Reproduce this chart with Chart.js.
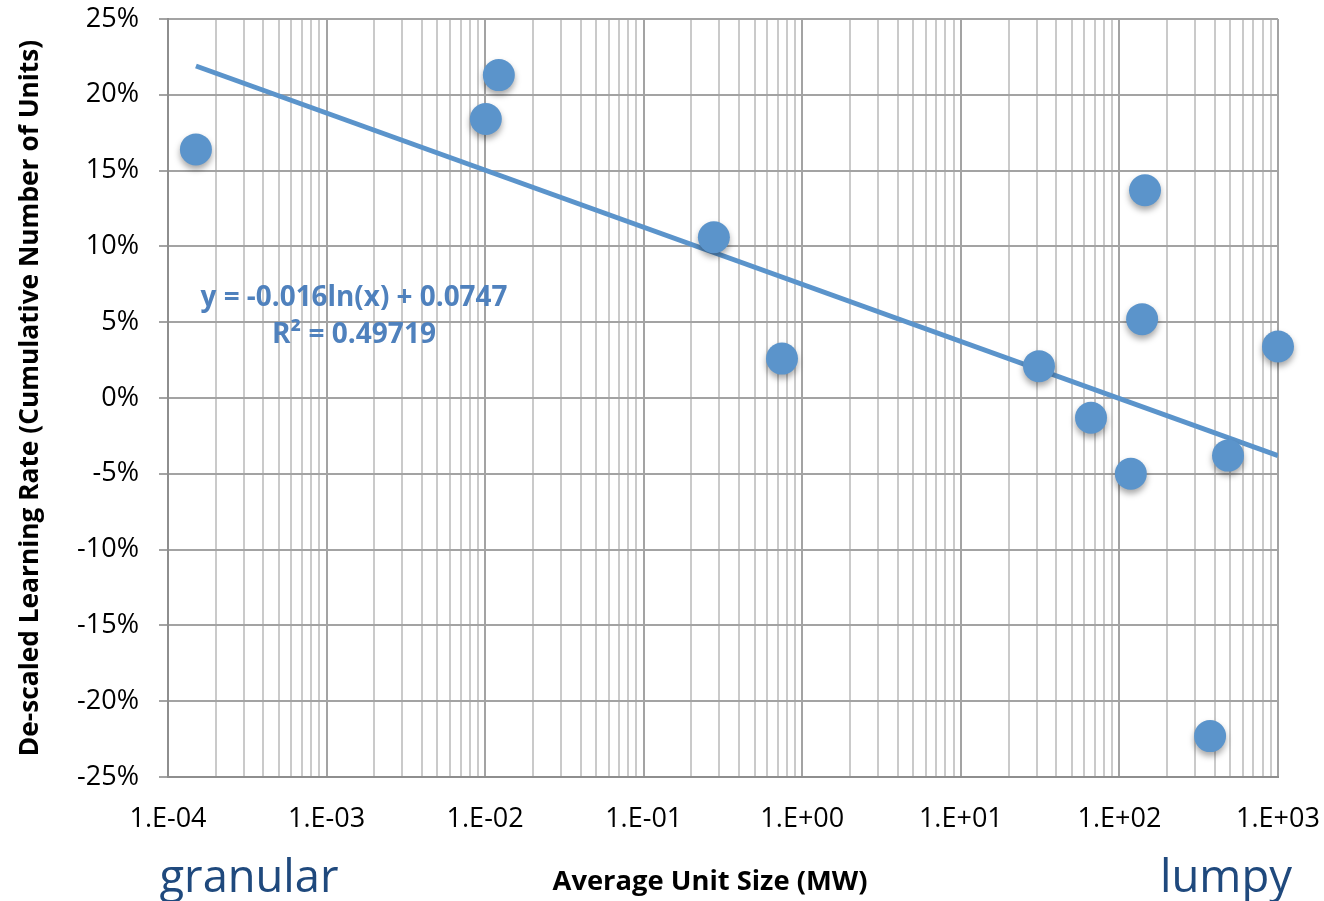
<!DOCTYPE html>
<html>
<head>
<meta charset="utf-8">
<title>Learning rate vs unit size</title>
<script src="https://cdn.jsdelivr.net/npm/chart.js@4.4.1/dist/chart.umd.min.js"></script>
<style>
  html, body { margin: 0; padding: 0; background: #fff; }
  #wrap { width: 1324px; height: 901px; }
</style>
</head>
<body>
<div id="wrap"><canvas id="learningChart" width="1324" height="901"></canvas></div>
<script>
// values
const unitSizeMW = [1.5e-4, 0.0101, 0.0122, 0.277, 0.745, 31.1, 66.2, 118, 145, 139, 484, 373, 1000];
const learningRate = [0.164, 0.184, 0.213, 0.106, 0.026, 0.021, -0.013, -0.050, 0.137, 0.052, -0.038, -0.223, 0.034];

// trendline end points (log fit, straight on a log axis)
const trendX = [1.5e-4, 1000];
const trendY = [0.219, -0.038];

const decades = [1e-4, 1e-3, 1e-2, 1e-1, 1e0, 1e1, 1e2, 1e3];
const xTickLabels = ['1.E-04', '1.E-03', '1.E-02', '1.E-01', '1.E+00', '1.E+01', '1.E+02', '1.E+03'];
const yTicks = [-0.25, -0.2, -0.15, -0.1, -0.05, 0, 0.05, 0.1, 0.15, 0.2, 0.25];

const blue = '#5b94cb';
const majorGrid = '#a3a3a3';
const minorGrid = '#cacaca';

function isDecade(v) {
    const l = Math.log10(v);
    return Math.abs(l - Math.round(l)) < 1e-9;
}

// no label overhang, the layout padding alone places the plot area
function noOverhang(scale) {
    scale.paddingTop = 0;
    scale.paddingBottom = 0;
    scale.paddingLeft = 0;
    scale.paddingRight = 0;
}

// draw text squeezed/stretched to a target width
function fitText(ctx, text, x, y, width, size, weight, color) {
    ctx.font = weight + ' ' + size + 'px "Open Sans"';
    const w = ctx.measureText(text).width;
    const s = size * width / w;
    ctx.font = weight + ' ' + s + 'px "Open Sans"';
    ctx.fillStyle = color;
    ctx.fillText(text, x, y);
}

const pointShadow = {
    id: 'pointShadow',
    beforeDatasetDraw(chart, args) {
        if (args.index !== 0) return;
        const ctx = chart.ctx;
        ctx.save();
        ctx.shadowColor = 'rgba(0,0,0,0.35)';
        ctx.shadowBlur = 6;
        ctx.shadowOffsetY = 4;
    },
    afterDatasetDraw(chart, args) {
        if (args.index !== 0) return;
        chart.ctx.restore();
    }
};

const annotations = {
    id: 'annotations',
    afterDraw(chart) {
        const ctx = chart.ctx;
        ctx.save();
        ctx.textAlign = 'center';
        ctx.textBaseline = 'middle';

        // equation of the fit
        fitText(ctx, 'y = -0.016ln(x) + 0.0747', 354, 298, 307, 24, 'bold', '#4f81bd');
        fitText(ctx, 'R² = 0.49719', 354, 335, 164, 24, 'bold', '#4f81bd');

        // x title
        fitText(ctx, 'Average Unit Size (MW)', 710, 882, 315, 22, 'bold', '#000');

        // granular / lumpy
        ctx.textBaseline = 'alphabetic';
        fitText(ctx, 'granular', 249, 892, 179, 44, 'normal', '#1f497d');
        fitText(ctx, 'lumpy', 1226, 892, 132, 44, 'normal', '#1f497d');

        // y title
        ctx.translate(30, 398);
        ctx.rotate(-Math.PI / 2);
        ctx.textBaseline = 'middle';
        fitText(ctx, 'De-scaled Learning Rate (Cumulative Number of Units)', 0, 0, 717, 22, 'bold', '#000');
        ctx.restore();
    }
};

const chartCanvas = document.getElementById('learningChart');
const learningChart = new Chart(chartCanvas, {
    data: {
        datasets: [{
            type: 'scatter',
            label: 'Technologies',
            data: unitSizeMW.map((x, i) => ({ x: x, y: learningRate[i] })),
            backgroundColor: blue,
            borderColor: blue,
            borderWidth: 0,
            pointRadius: 16,
            pointHoverRadius: 16,
            clip: false,
            order: 1
        }, {
            type: 'line',
            label: 'Log fit',
            data: trendX.map((x, i) => ({ x: x, y: trendY[i] })),
            borderColor: blue,
            borderWidth: 5,
            pointRadius: 0,
            fill: false,
            order: 2
        }]
    },
    options: {
        responsive: false,
        animation: false,
        events: [],
        layout: { padding: { top: 19, right: 46, left: 0, bottom: 0 } },
        scales: {
            x: {
                type: 'logarithmic',
                min: 1e-4,
                max: 1e3,
                afterBuildTicks: function(scale) {
                    const ticks = [];
                    decades.forEach(function(d, i) {
                        ticks.push({ value: d, major: true });
                        if (i < decades.length - 1) {
                            for (let k = 2; k <= 9; k++) ticks.push({ value: d * k });
                        }
                    });
                    scale.ticks = ticks;
                },
                afterFit: function(scale) {
                    scale.height = 124;
                    noOverhang(scale);
                },
                grid: {
                    drawTicks: false,
                    lineWidth: 2,
                    color: ctx => (ctx.tick && isDecade(ctx.tick.value)) ? majorGrid : minorGrid
                },
                border: { color: '#8e8e8e', width: 2 },
                ticks: {
                    autoSkip: false,
                    maxRotation: 0,
                    padding: 26,
                    color: '#000',
                    font: { family: 'Open Sans', size: 27 },
                    callback: function(value) {
                        const i = decades.findIndex(d => Math.abs(d - value) / d < 1e-9);
                        return i >= 0 ? xTickLabels[i] : '';
                    }
                }
            },
            y: {
                type: 'linear',
                min: -0.25,
                max: 0.25,
                afterBuildTicks: function(scale) {
                    scale.ticks = yTicks.map(v => ({ value: v }));
                },
                afterFit: function(scale) {
                    scale.width = 168;
                    noOverhang(scale);
                },
                grid: {
                    lineWidth: 2,
                    tickLength: 9,
                    color: majorGrid
                },
                border: { color: '#8e8e8e', width: 2 },
                ticks: {
                    padding: 20,
                    color: '#000',
                    font: { family: 'Open Sans', size: 27 },
                    callback: value => Math.round(value * 100) + '%'
                }
            }
        },
        plugins: {
            legend: { display: false },
            tooltip: { enabled: false }
        }
    },
    plugins: [pointShadow, annotations]
});
</script>
</body>
</html>
